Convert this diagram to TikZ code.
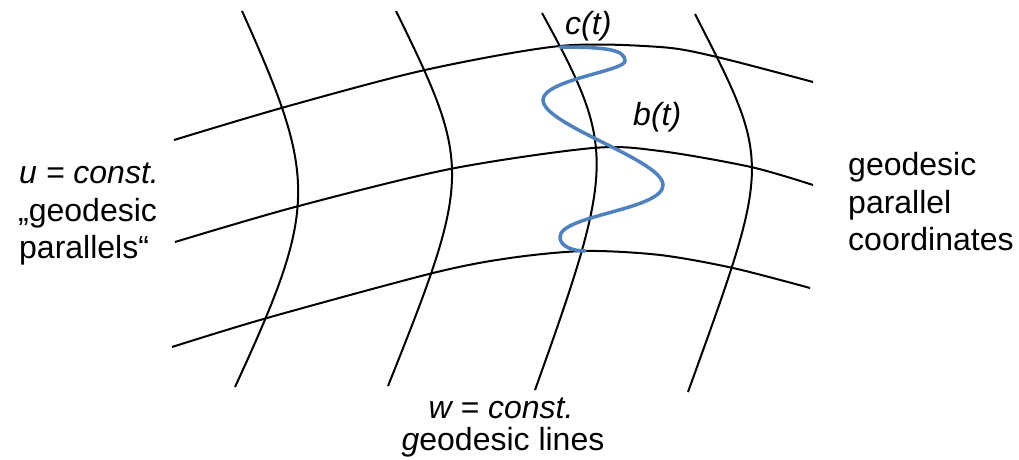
\documentclass[tikz,border=0pt]{standalone}
\usepackage{fontspec}
\setmainfont{Liberation Sans}
\definecolor{curveblue}{RGB}{79,129,189}
\begin{document}
\begin{tikzpicture}[x=1pt,y=-1pt,
  gridline/.style={line width=2pt,black},
  bcurve/.style={line width=3.5pt,curveblue,line cap=round},
  lbl/.style={inner sep=0pt,anchor=base west,font=\fontsize{32}{37}\selectfont},
  lblc/.style={inner sep=0pt,anchor=base,font=\fontsize{32}{37}\selectfont}]
\useasboundingbox (0,0) rectangle (1019,460);
% parallels (u = const.)
\draw[gridline] plot[smooth] coordinates {(174,140) (285,107) (425,70) (560,46) (660,47) (717,57) (813,82)};
\draw[gridline] plot[smooth] coordinates {(175,242) (295,207) (450,169) (593,148) (660,151) (751,167) (813,185)};
\draw[gridline] plot[smooth] coordinates {(172,347) (267,318) (433,273) (510,258) (585,251) (660,255) (733,268) (810,288)};
% geodesic lines (w = const.)
\draw[gridline] (242,11) .. controls (318,180) and (318,207) .. (235,387);
\draw[gridline] (396,11) .. controls (472,166) and (472,176) .. (388,386);
\draw[gridline] (542,13) .. controls (616,148) and (616,164) .. (535,390);
\draw[gridline] (695,14) .. controls (772,165) and (772,159) .. (688,392);
% blue curve b(t)
\draw[bcurve] (560,47) .. controls (608,47) and (625,50) .. (625,61)
  .. controls (625,71) and (543,80) .. (543,100)
  .. controls (543,125) and (663,160) .. (663,185)
  .. controls (663,210) and (560,215) .. (560,237)
  .. controls (560,247) and (574,251) .. (585,251);
% labels
\node[lbl] (ct) at (565,35) {\itshape c(t)};
\node[lbl] (bt) at (633,125) {\itshape b(t)};
\node[lbl] (l1) at (19,183) {\itshape u = const.};
\node[lbl] (l2) at (18,221) {„geodesic};
\node[lbl] (l3) at (19,258) {parallels“};
\node[lbl] (r1) at (848,175) {geodesic};
\node[lbl] (r2) at (848,213) {parallel};
\node[lbl] (r3) at (848,250) {coordinates};
\node[lblc] (b1) at (501,418) {\itshape w = const.};
\node[lblc] (b2) at (503,450) {\textit{g}eodesic lines};
\end{tikzpicture}
\end{document}
